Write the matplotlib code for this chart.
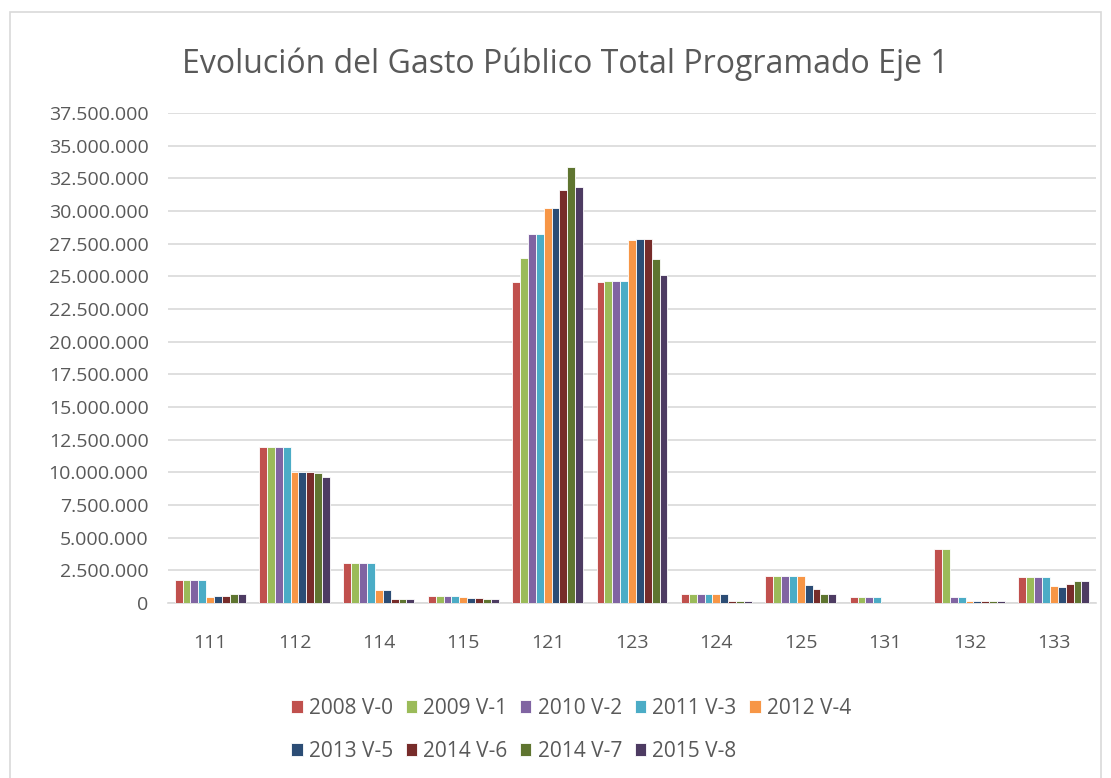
import matplotlib
matplotlib.use('Agg')
import matplotlib.pyplot as plt
from matplotlib.patches import Rectangle
from matplotlib.ticker import FuncFormatter
import numpy as np

# categorias (medidas del eje 1)
categorias = ['111', '112', '114', '115', '121', '123', '124', '125', '131', '132', '133']

# series (versiones del programa)
series = ['2008 V-0', '2009 V-1', '2010 V-2', '2011 V-3', '2012 V-4',
          '2013 V-5', '2014 V-6', '2014 V-7', '2015 V-8']

v111 = [1760000, 1760000, 1760000, 1760000, 480000, 500000, 500000, 690000, 690000]
v112 = [11960000, 11960000, 11960000, 11960000, 10000000, 10000000, 10000000, 9930000, 9620000]
v114 = [3040000, 3040000, 3040000, 3040000, 1000000, 1000000, 300000, 300000, 300000]
v115 = [500000, 500000, 500000, 500000, 480000, 400000, 400000, 300000, 300000]
v121 = [24540000, 26380000, 28260000, 28260000, 30230000, 30230000, 31600000, 33390000, 31800000]
v123 = [24540000, 24620000, 24620000, 24620000, 27780000, 27880000, 27880000, 26300000, 25130000]
v124 = [690000, 690000, 690000, 690000, 690000, 690000, 180000, 180000, 180000]
v125 = [2070000, 2070000, 2070000, 2070000, 2070000, 1380000, 1050000, 690000, 690000]
v131 = [480000, 480000, 480000, 480000, 0, 0, 0, 0, 0]
v132 = [4100000, 4100000, 480000, 480000, 120000, 120000, 120000, 120000, 120000]
v133 = [1970000, 1970000, 1970000, 1970000, 1280000, 1260000, 1450000, 1660000, 1660000]

datos = np.array([v111, v112, v114, v115, v121, v123, v124, v125, v131, v132, v133])

colores = ['#C0504D', '#9BBB59', '#8064A2', '#4BACC6', '#F79646',
           '#2C4D75', '#772C2A', '#5F7530', '#4D3B62']

gris = '#595959'
plt.rcParams['font.family'] = ['Open Sans', 'DejaVu Sans']

fig = plt.figure(figsize=(11.11, 7.78), dpi=100)
ax = fig.add_axes([0.1512, 0.2249, 0.8353, 0.630])

# borde del area del grafico
fig.patches.append(Rectangle((0.009, -0.01), 0.982, 0.995, transform=fig.transFigure,
                             fill=False, edgecolor='#D9D9D9', linewidth=1.2))

x = np.arange(len(categorias))
ancho = 0.84 / len(series)
for i in range(len(series)):
    ax.bar(x - 0.42 + ancho * (i + 0.5), datos[:, i], width=ancho, color=colores[i],
           edgecolor='white', linewidth=0.6, label=series[i], zorder=3)

ax.set_xlim(-0.5, len(categorias) - 0.5)
ax.set_ylim(0, 37500000)
ax.set_yticks(np.arange(0, 37500001, 2500000))
ax.yaxis.set_major_formatter(FuncFormatter(lambda v, p: '{:,.0f}'.format(v).replace(',', '.')))
ax.set_xticks(x)
ax.set_xticklabels(categorias)

ax.grid(axis='y', color='#D9D9D9', linewidth=1.2, zorder=0)
for s in ['top', 'right', 'left']:
    ax.spines[s].set_visible(False)
ax.spines['bottom'].set_color('#D9D9D9')
ax.spines['bottom'].set_linewidth(1.2)
ax.tick_params(axis='both', length=0, colors=gris, labelsize=14)
ax.tick_params(axis='x', pad=22)
ax.tick_params(axis='y', pad=14)

fig.text(0.5085, 0.918, 'Evolución del Gasto Público Total Programado Eje 1',
         ha='center', va='center', fontsize=23, color=gris)

# leyenda en dos filas, orden por filas
h, l = ax.get_legend_handles_labels()
orden = [0, 5, 1, 6, 2, 7, 3, 8, 4]
fig.legend([h[i] for i in orden], [l[i] for i in orden], ncol=5, loc='center',
           bbox_to_anchor=(0.514, 0.062), frameon=False, fontsize=15,
           handlelength=0.55, handleheight=0.55, handletextpad=0.3, columnspacing=0.6,
           labelspacing=1.05, labelcolor=gris)

fig.savefig('out.png', dpi=100)
